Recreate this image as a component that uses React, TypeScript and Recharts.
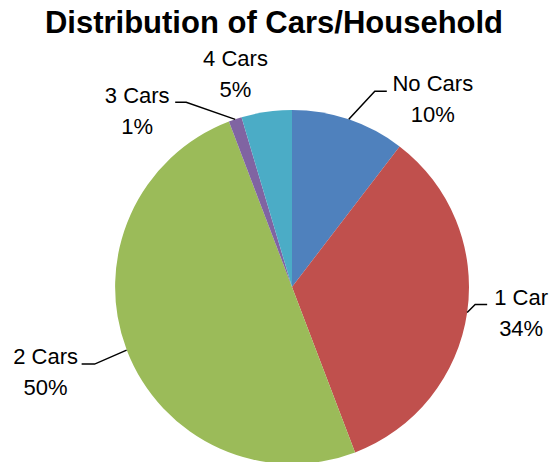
import React from 'react';
import { PieChart, Pie, Cell } from 'recharts';

const CATEGORIES = ['No Cars', '1 Car', '2 Cars', '3 Cars', '4 Cars'];
const SHARES = [10.4, 33.8, 50.0, 1.2, 4.6];
const COLORS = ['#4F81BD', '#C0504D', '#9BBB59', '#8064A2', '#4BACC6'];

// label placement relative to the point where the slice's mid angle meets the rim
// tx/ty: text centre x and first baseline; elbow/end: leader line geometry
const LABEL_LAYOUT = [
  { tx: 84, ty: -28, elbow: [26, -28], end: 38 },
  { tx: 54, ty: -7, elbow: [8, -8], end: 20 },
  { tx: -81, ty: 14, elbow: [-32, 14], end: -45 },
  { tx: -98, ty: -16, elbow: [-49, -17], end: -60 },
  { tx: -31, ty: -46, elbow: null, end: null }
];

const data = CATEGORIES.map((name, i) => ({ name, value: SHARES[i] }));

const FONT = '"Liberation Sans", Arial, sans-serif';
const RADIAN = Math.PI / 180;

const renderLabel = (props: any) => {
  const { cx, cy, midAngle, outerRadius, percent, name } = props;
  const idx = CATEGORIES.indexOf(name);
  const layout = LABEL_LAYOUT[idx];
  const ax = cx + outerRadius * Math.cos(-midAngle * RADIAN);
  const ay = cy + outerRadius * Math.sin(-midAngle * RADIAN);
  const tx = ax + layout.tx;
  const ty = ay + layout.ty;
  return (
    <g key={`lbl-${idx}`}>
      {layout.elbow && (
        <polyline
          points={`${ax},${ay} ${ax + layout.elbow[0]},${ay + layout.elbow[1]} ${ax + (layout.end as number)},${ay + layout.elbow[1]}`}
          fill="none"
          stroke="#000"
          strokeWidth={1.5}
        />
      )}
      <text x={tx} y={ty} textAnchor="middle" fontFamily={FONT} fontSize={22} fill="#000">
        {name}
      </text>
      <text x={tx} y={ty + 31} textAnchor="middle" fontFamily={FONT} fontSize={22} fill="#000">
        {`${Math.round(percent * 100)}%`}
      </text>
    </g>
  );
};

export default function App() {
  return (
    <div style={{ position: 'fixed', left: 0, top: 0, width: 551, height: 462, background: '#fff' }}>
      <div
        style={{
          position: 'absolute',
          top: 7,
          left: 0,
          width: 548,
          textAlign: 'center',
          fontFamily: FONT,
          fontWeight: 'bold',
          fontSize: 31,
          lineHeight: '31px',
          color: '#000'
        }}
      >
        Distribution of Cars/Household
      </div>
      <PieChart width={551} height={462} margin={{ top: 0, right: 0, bottom: 0, left: 0 }}>
        <Pie
          data={data}
          dataKey="value"
          nameKey="name"
          cx={292}
          cy={287}
          outerRadius={177}
          startAngle={90}
          endAngle={-270}
          stroke="none"
          label={renderLabel}
          labelLine={false}
          isAnimationActive={false}
        >
          {data.map((d, i) => (
            <Cell key={d.name} fill={COLORS[i]} />
          ))}
        </Pie>
      </PieChart>
    </div>
  );
}
